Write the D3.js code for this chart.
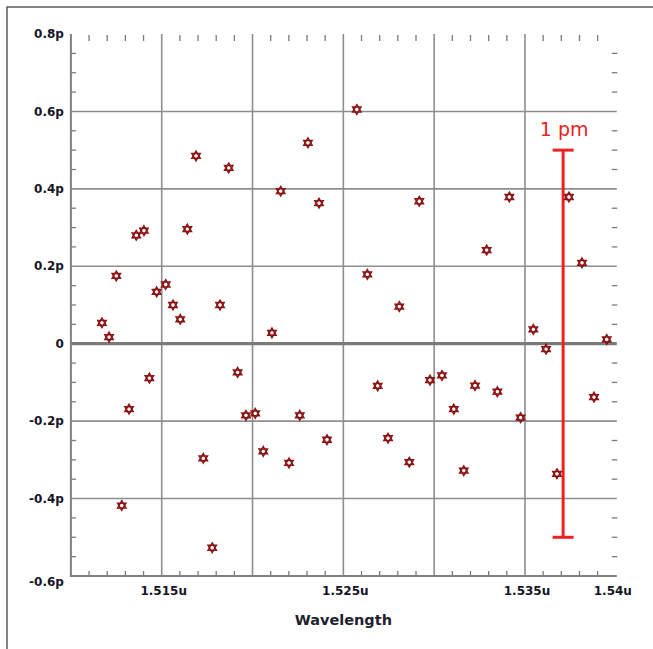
<!DOCTYPE html>
<html>
<head>
<meta charset="utf-8">
<script src="https://cdn.jsdelivr.net/npm/d3@7"></script>
<style>
  html, body { margin: 0; padding: 0; background: #fff; }
  svg { display: block; }
</style>
</head>
<body>
<svg id="chart" width="653" height="649"></svg>
<script>
// Wavelength in µm ("u"), delay in pico units ("p")
const wavelength = [
  1.51171, 1.51210, 1.51250, 1.51280, 1.51320, 1.51360, 1.51402, 1.51432, 1.51472, 1.51522,
  1.51562, 1.51602, 1.51641, 1.51689, 1.51729, 1.51778, 1.51821, 1.51869, 1.51918, 1.51964,
  1.52015, 1.52059, 1.52107, 1.52155, 1.52201, 1.52260, 1.52305, 1.52366, 1.52410, 1.52574,
  1.52632, 1.52689, 1.52746, 1.52808, 1.52863, 1.52918, 1.52977, 1.53043, 1.53108, 1.53163,
  1.53225, 1.53289, 1.53348, 1.53414, 1.53476, 1.53546, 1.53616, 1.53676, 1.53742, 1.53814,
  1.53880, 1.53950
];
const delay = [
  0.054, 0.017, 0.175, -0.418, -0.169, 0.280, 0.292, -0.089, 0.134, 0.153,
  0.100, 0.063, 0.296, 0.485, -0.296, -0.527, 0.100, 0.454, -0.074, -0.185,
  -0.180, -0.278, 0.028, 0.394, -0.308, -0.185, 0.519, 0.363, -0.248, 0.605,
  0.179, -0.109, -0.244, 0.096, -0.306, 0.368, -0.094, -0.082, -0.169, -0.328,
  -0.108, 0.242, -0.124, 0.379, -0.191, 0.037, -0.014, -0.336, 0.379, 0.209,
  -0.138, 0.011
];
const xGridValues = [1.515, 1.520, 1.525, 1.530, 1.535];
const xTickLabels = [
  { v: 1.515, t: "1.515u" }, { v: 1.525, t: "1.525u" },
  { v: 1.535, t: "1.535u" }, { v: 1.540, t: "1.54u" }
];
const yTickValues = [0.8, 0.6, 0.4, 0.2, 0, -0.2, -0.4, -0.6];
const yTickLabels = ["0.8p", "0.6p", "0.4p", "0.2p", "0", "-0.2p", "-0.4p", "-0.6p"];
const xLabel = "Wavelength";
const scaleBarLabel = "1 pm";
const scaleBar = { x: 1.5371, top: 0.5, bottom: -0.5 };

const svg = d3.select("#chart");
const W = 653, H = 649;
const L = 70.9, R = 615.8, T = 34, B = 576;

const x = d3.scaleLinear().domain([1.51, 1.54]).range([L, R]);
const y = d3.scaleLinear().domain([-0.6, 0.8]).range([B, T]);

// outer frame (only left/top edges inside the picture)
svg.append("rect").attr("x", 7).attr("y", 7).attr("width", 700).attr("height", 700)
  .attr("fill", "none").attr("stroke", "#444").attr("stroke-width", 1.3);

const g = svg.append("g");
const gridColor = "#8e8e8e";

// horizontal gridlines
g.selectAll("line.hg").data(yTickValues.filter(v => v > -0.6 && v < 0.8 && v !== 0))
  .join("line").attr("class", "hg")
  .attr("x1", L).attr("x2", R + 1).attr("y1", d => y(d)).attr("y2", d => y(d))
  .attr("stroke", gridColor).attr("stroke-width", 1.6);

// vertical gridlines
g.selectAll("line.vg").data(xGridValues).join("line").attr("class", "vg")
  .attr("x1", d => x(d)).attr("x2", d => x(d)).attr("y1", T).attr("y2", B)
  .attr("stroke", gridColor).attr("stroke-width", 1.6);

// zero line
g.append("line").attr("x1", L).attr("x2", R + 1).attr("y1", y(0)).attr("y2", y(0))
  .attr("stroke", "#7a7a7a").attr("stroke-width", 3.2);

// minor ticks
const xMinor = d3.range(1.511, 1.5400, 0.001).filter(v => Math.abs(Math.round(v * 200) - v * 200) > 1e-6);
const yMinor = d3.range(-0.55, 0.8, 0.05).filter(v => Math.abs(Math.round(v * 5) - v * 5) > 1e-6);
const tickColor = "#7a7a7a";
g.selectAll("line.xmb").data(xMinor).join("line").attr("class", "xmb")
  .attr("x1", d => x(d)).attr("x2", d => x(d)).attr("y1", B).attr("y2", B - 5)
  .attr("stroke", tickColor).attr("stroke-width", 1.3);
g.selectAll("line.xmt").data(xMinor).join("line").attr("class", "xmt")
  .attr("x1", d => x(d)).attr("x2", d => x(d)).attr("y1", T + 1).attr("y2", T + 7)
  .attr("stroke", tickColor).attr("stroke-width", 1.3);
g.selectAll("line.yml").data(yMinor).join("line").attr("class", "yml")
  .attr("x1", L).attr("x2", L + 5).attr("y1", d => y(d)).attr("y2", d => y(d))
  .attr("stroke", tickColor).attr("stroke-width", 1.3);
g.selectAll("line.ymr").data(yMinor).join("line").attr("class", "ymr")
  .attr("x1", R - 4).attr("x2", R + 1.5).attr("y1", d => y(d)).attr("y2", d => y(d))
  .attr("stroke", tickColor).attr("stroke-width", 1.3);

// axis lines (left & bottom)
g.append("line").attr("x1", L).attr("x2", L).attr("y1", T).attr("y2", B + 1)
  .attr("stroke", "#808080").attr("stroke-width", 2);
g.append("line").attr("x1", L - 1).attr("x2", R + 1).attr("y1", B).attr("y2", B)
  .attr("stroke", "#808080").attr("stroke-width", 2);

// tick labels
const labelFont = "DejaVu Sans, sans-serif";
svg.selectAll("text.yl").data(yTickValues).join("text").attr("class", "yl")
  .attr("x", L - 7).attr("y", (d) => y(d) + (d === -0.6 ? 6 : 0))
  .attr("dy", "0.35em").attr("text-anchor", "end")
  .attr("font-family", labelFont).attr("font-weight", "bold").attr("font-size", 12)
  .attr("fill", "#141428")
  .text((d, i) => yTickLabels[i]);

svg.selectAll("text.xl").data(xTickLabels).join("text").attr("class", "xl")
  .attr("x", d => x(d.v) + (d.v === 1.54 ? -3 : 2)).attr("y", B + 19)
  .attr("text-anchor", "middle")
  .attr("font-family", labelFont).attr("font-weight", "bold").attr("font-size", 12)
  .attr("fill", "#141428")
  .text(d => d.t);

svg.append("text").attr("x", (L + R) / 2).attr("y", 625).attr("text-anchor", "middle")
  .attr("font-family", labelFont).attr("font-weight", "bold").attr("font-size", 14.5)
  .attr("fill", "#1e1e2e").text(xLabel);

// scale bar
const red = "#ee2222";
const sbx = x(scaleBar.x);
g.append("line").attr("x1", sbx).attr("x2", sbx).attr("y1", y(scaleBar.top)).attr("y2", y(scaleBar.bottom))
  .attr("stroke", red).attr("stroke-width", 3);
[scaleBar.top, scaleBar.bottom].forEach(v => {
  g.append("line").attr("x1", sbx - 10.5).attr("x2", sbx + 10.5).attr("y1", y(v)).attr("y2", y(v))
    .attr("stroke", red).attr("stroke-width", 3);
});
svg.append("text").attr("x", sbx + 1).attr("y", y(scaleBar.top) - 14).attr("text-anchor", "middle")
  .attr("font-family", "DejaVu Sans, sans-serif").attr("font-size", 19)
  .attr("fill", red).text(scaleBarLabel);

// star markers (hexagram = two triangles)
const r = 4.8;
function tri(up) {
  const pts = [0, 1, 2].map(k => {
    const a = (up ? -Math.PI / 2 : Math.PI / 2) + k * 2 * Math.PI / 3;
    return [r * Math.cos(a), r * Math.sin(a)];
  });
  return "M" + pts.map(p => p.join(",")).join("L") + "Z";
}
const pts = wavelength.map((w, i) => ({ w, d: delay[i] }));
const mk = g.selectAll("g.mk").data(pts).join("g").attr("class", "mk")
  .attr("transform", d => `translate(${x(d.w)},${y(d.d)})`);
mk.append("path").attr("d", tri(true)).attr("fill", "#fff").attr("stroke", "#8b1414").attr("stroke-width", 1.5);
mk.append("path").attr("d", tri(false)).attr("fill", "none").attr("stroke", "#8b1414").attr("stroke-width", 1.5);
</script>
</body>
</html>
